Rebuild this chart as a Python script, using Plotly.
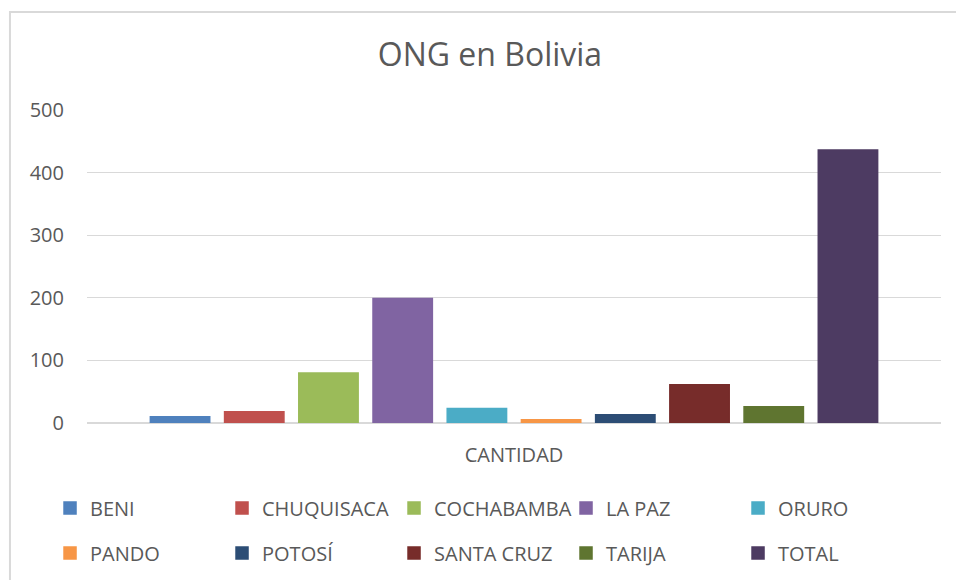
import plotly.graph_objects as go

categories = ["CANTIDAD"]
departamentos = ["BENI", "CHUQUISACA", "COCHABAMBA", "LA PAZ", "ORURO",
                 "PANDO", "POTOSÍ", "SANTA CRUZ", "TARIJA", "TOTAL"]
valores = [10, 18, 80, 199, 23, 5, 13, 61, 26, 436]
colores = ["#4F81BD", "#C0504D", "#9BBB59", "#8064A2", "#4BACC6",
           "#F79646", "#2C4D75", "#772C2A", "#5F7530", "#4D3B62"]
y_ticks = [0, 100, 200, 300, 400, 500]

FONT = "Open Sans"
GRAY = "#595959"

fig = go.Figure()
for i, (name, val, col) in enumerate(zip(departamentos, valores, colores)):
    fig.add_trace(go.Bar(
        x=categories, y=[val], name=name, marker_color=col,
        marker_line=dict(color=col, width=1.5),
        legend="legend" if i < 5 else "legend2",
    ))

leg_common = dict(
    orientation="h", xanchor="left", yanchor="middle",
    entrywidth=127, entrywidthmode="pixels",
    font=dict(family=FONT, size=20, color=GRAY),
    bgcolor="rgba(0,0,0,0)", traceorder="normal",
)

fig.update_layout(
    width=956, height=580,
    margin=dict(l=87, r=15, t=110, b=157, autoexpand=False),
    paper_bgcolor="white", plot_bgcolor="white",
    font=dict(family=FONT, color=GRAY),
    title=dict(text="ONG en Bolivia", x=0.5125, xanchor="center",
               y=1 - 55 / 580, yanchor="middle",
               font=dict(family=FONT, size=32, color=GRAY)),
    barmode="group", bargap=0.131, bargroupgap=0.2,
    showlegend=True,
    legend=dict(x=-0.0433, y=-0.2716, **leg_common),
    legend2=dict(x=-0.0433, y=-0.415, **leg_common),
    xaxis=dict(showgrid=False, showline=True, linecolor="#D9D9D9",
               tickfont=dict(family=FONT, size=20, color=GRAY),
               ticks="", ticklabelstandoff=14),
    yaxis=dict(range=[0, 500], tickvals=y_ticks, showgrid=True,
               gridcolor="#D9D9D9", zeroline=True, zerolinecolor="#D9D9D9",
               showline=False, ticks="", ticklabelstandoff=22,
               tickfont=dict(family=FONT, size=20, color=GRAY)),
    shapes=[dict(type="rect", xref="paper", yref="paper",
                 x0=-0.0902, x1=1.04, y0=-0.6, y1=1.313,
                 line=dict(color="#D9D9D9", width=2), layer="below")],
)

fig.write_html("out.html", config={"displayModeBar": False},
               post_script="document.body.style.margin='0';")
